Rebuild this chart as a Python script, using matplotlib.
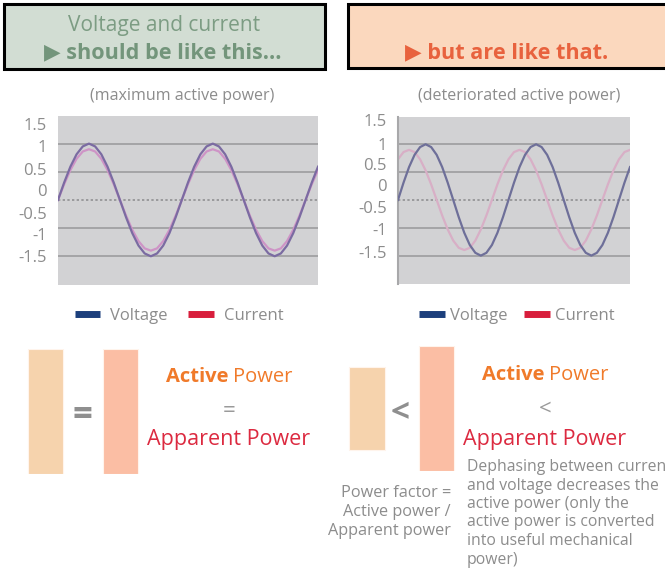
import matplotlib
matplotlib.use("Agg")
import matplotlib.pyplot as plt
from matplotlib.patches import Rectangle
from matplotlib.lines import Line2D
import numpy as np

plt.rcParams["font.family"] = ["Open Sans", "DejaVu Sans"]

# ── data ──────────────────────────────────────────────────────────────────
phase_deg = np.arange(0, 757, 18)  # sample grid, 0..756 degrees

voltage = [0, .31, .59, .81, .95, 1, .95, .81, .59, .31,
           0, -.31, -.59, -.81, -.95, -1, -.95, -.81, -.59, -.31,
           0, .31, .59, .81, .95, 1, .95, .81, .59, .31,
           0, -.31, -.59, -.81, -.95, -1, -.95, -.81, -.59, -.31,
           0, .31, .59]
current_ok = [0, .28, .53, .73, .86, .9, .86, .73, .53, .28,
              0, -.28, -.53, -.73, -.86, -.9, -.86, -.73, -.53, -.28,
              0, .28, .53, .73, .86, .9, .86, .73, .53, .28,
              0, -.28, -.53, -.73, -.86, -.9, -.86, -.73, -.53, -.28,
              0, .28, .53]
current_bad = [.73, .86, .9, .86, .73, .53, .28, 0, -.28, -.53,
               -.73, -.86, -.9, -.86, -.73, -.53, -.28, 0, .28, .53,
               .73, .86, .9, .86, .73, .53, .28, 0, -.28, -.53,
               -.73, -.86, -.9, -.86, -.73, -.53, -.28, 0, .28, .53,
               .73, .86, .9]

tick_labels = ["1.5", "1", "0.5", "0", "-0.5", "-1", "-1.5"]
# label positions drift from the gridlines in the original picture
tick_pos_left = [1.34, 0.95, 0.55, 0.18, -0.23, -0.61, -1.0]
tick_pos_right = [1.43, 1.01, 0.65, 0.27, -0.12, -0.53, -0.94]
grid_levels = [1, 0.5, -0.5, -1]

power_labels = ["Active", "Apparent"]
power_ok = [1.0, 1.0]
power_bad = [0.66, 1.0]

description = ["Dephasing between curren",
               "and voltage decreases the",
               "active power (only the",
               "active power is converted",
               "into useful mechanical",
               "power)"]
pf_text = ["Power factor =", "Active power /", "Apparent power"]

# ── colours ───────────────────────────────────────────────────────────────
GREY_TXT = "#8C8C8C"
PLOT_BG = "#D2D2D4"
GRID = "#A4A4A6"
ORANGE = "#F07A2A"
CRIMSON = "#DC2A40"
BAR_ACTIVE = "#F6D3AD"
BAR_APPARENT = "#FBBEA4"

W, H = 665, 571
fig = plt.figure(figsize=(W / 100, H / 100), dpi=100)
fig.patch.set_facecolor("white")


def px_axes(x0, y0, x1, y1):
    """Axes from pixel box (top-left origin)."""
    return fig.add_axes([x0 / W, (H - y1) / H, (x1 - x0) / W, (y1 - y0) / H])


# overlay in pixel coordinates for boxes and captions
ov = fig.add_axes([0, 0, 1, 1], zorder=0)
ov.set_xlim(0, W)
ov.set_ylim(H, 0)
ov.axis("off")

# ── header boxes ──────────────────────────────────────────────────────────
ov.add_patch(Rectangle((4, 4), 321, 65, facecolor="#D2DDD3", edgecolor="black", lw=2.2))
ov.add_patch(Rectangle((347.5, 4), 330, 64, facecolor="#FBD8BE", edgecolor="black", lw=2.2,
                       clip_on=True))
ov.text(164, 26, "Voltage and current", ha="center", va="center",
        fontsize=15, color="#7C9C83")
ov.text(163, 53, "\u25B6 should be like this...", ha="center", va="center",
        fontsize=15.6, fontweight="bold", color="#73957B")
ov.text(507, 53, "\u25B6 but are like that.", ha="center", va="center",
        fontsize=15.6, fontweight="bold", color="#E8623E")

# ── wave charts ───────────────────────────────────────────────────────────
def wave_chart(box, v, c, ticks, title, title_x, vcol, ccol, spine):
    ax = px_axes(*box)
    ax.set_facecolor(PLOT_BG)
    for lvl in grid_levels:
        ax.axhline(lvl, color=GRID, lw=1.4, zorder=1)
    ax.axhline(0, color="#9A9A9C", lw=1.4, ls=(0, (1.2, 1.2)), zorder=1)
    ax.plot(phase_deg, c, color=ccol, lw=1.6, zorder=2)
    ax.plot(phase_deg, v, color=vcol, lw=1.6, zorder=3)
    ax.set_xlim(phase_deg[0], phase_deg[-1])
    ax.set_ylim(-1.51, 1.49)
    ax.set_xticks([])
    ax.set_yticks(ticks)
    ax.set_yticklabels(tick_labels)
    ax.tick_params(axis="y", length=0, pad=8, labelsize=12, labelcolor=GREY_TXT)
    for s in ["top", "right", "bottom"]:
        ax.spines[s].set_visible(False)
    if spine:
        ax.spines["left"].set_color("#A8A8AA")
        ax.spines["left"].set_linewidth(1.5)
    else:
        ax.spines["left"].set_visible(False)
    ov.text(title_x, 96, title, ha="center", va="center", fontsize=11.5, color=GREY_TXT)
    return ax


ax_l = wave_chart((58, 116, 318, 285), voltage, current_ok, tick_pos_left,
                  "(maximum active power)", 182, "#7B6BA2", "#CE94C6", False)
ax_r = wave_chart((398, 117, 630, 284), voltage, current_bad, tick_pos_right,
                  "(deteriorated active power)", 519, "#6E6F99", "#D8AFC6", True)

# legends
handles = [Line2D([], [], color="#1C3F7C", lw=5, solid_capstyle="butt"),
           Line2D([], [], color="#D81E3C", lw=5, solid_capstyle="butt")]
for ax, cx, tpad, cspace in [(ax_l, 179 / W, 0.6, 1.2), (ax_r, 517 / W, 0.3, 1.0)]:
    ax.legend(handles, ["Voltage", "Current"], loc="center", ncol=2, frameon=False,
              bbox_to_anchor=(cx, (H - 316) / H), bbox_transform=fig.transFigure,
              fontsize=12, labelcolor=GREY_TXT, handlelength=1.55, handletextpad=tpad,
              columnspacing=cspace)

# ── power bars ────────────────────────────────────────────────────────────
def power_bars(box, heights, width):
    ax = px_axes(*box)
    bottoms = [-h / 2 for h in heights]
    ax.bar(range(len(heights)), heights, bottom=bottoms, width=width,
           color=[BAR_ACTIVE, BAR_APPARENT], edgecolor="#FFF4EC", lw=0.8)
    ax.set_xlim(-0.5, len(heights) - 0.5)
    ax.set_ylim(-0.5, 0.5)
    ax.axis("off")
    return ax


power_bars((8, 349, 158, 474), power_ok, 0.467)
power_bars((332.25, 346, 471.25, 471), power_bad, 0.51)

ov.text(82, 416, "=", ha="center", va="center", fontsize=25, fontweight="bold", color="#8F8F8F")
ov.text(400, 414, "<", ha="center", va="center", fontsize=24, fontweight="bold", color="#8F8F8F")

# captions
for xr, y_act, y_sym, y_app, sym in [(228, 377, 411, 440, "="), (544, 375, 409, 439, "<")]:
    ov.text(xr, y_act, "Active", ha="right", va="center", fontsize=14.5,
            fontweight="bold", color=ORANGE)
    ov.text(xr + 5, y_act, "Power", ha="left", va="center", fontsize=14.5, color=ORANGE)
    ov.text(xr + 1, y_sym, sym, ha="center", va="center", fontsize=16, color="#9A9A9A")
    ov.text(xr + 1, y_app, "Apparent Power", ha="center", va="center", fontsize=15.5,
            color=CRIMSON)

for i, line in enumerate(description):
    ov.text(467, 467 + i * 18.5, line, ha="left", va="center", fontsize=11.3,
            color=GREY_TXT)
for i, line in enumerate(pf_text):
    ov.text(451, 493 + i * 19, line, ha="right", va="center", fontsize=11.7,
            color=GREY_TXT)

fig.savefig("out.png", dpi=100, facecolor=fig.get_facecolor())
